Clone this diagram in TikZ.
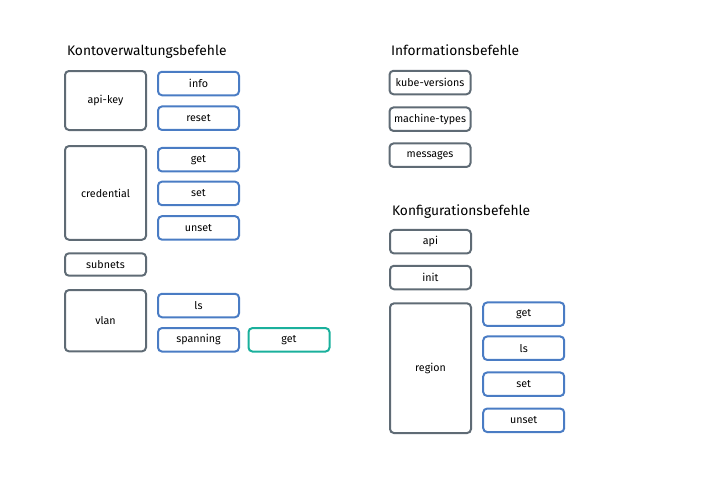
\documentclass[tikz,border=0pt]{standalone}
\usepackage{fontspec}
\setmainfont{Fira Sans}
\definecolor{cmdgray}{HTML}{5F6B75}
\definecolor{cmdblue}{HTML}{4A7CC4}
\definecolor{cmdteal}{HTML}{1AB09C}
\begin{document}
\begin{tikzpicture}
        [x=1pt,y=-1pt,
        every node/.style={rounded corners=4pt,line width=2pt,inner sep=0pt,
          font=\fontsize{10.7}{12}\selectfont,minimum width=81pt,minimum height=23.5pt},
        cmd/.style={draw=cmdgray},
        sub/.style={draw=cmdblue},
        subsub/.style={draw=cmdteal},
        title/.style={draw=none,anchor=base west,minimum width=0pt,minimum height=0pt,
          font=\fontsize{13.8}{17}\selectfont}]
        \useasboundingbox (0,0) rectangle (725,482);
        %Kontoverwaltung
        \node[title] (T1) at (66,55)                {Kontoverwaltungsbefehle};
        \node[cmd,minimum height=59pt] (APIKEY) at (105.5,100.5)     {api-key};
        \node[cmd,minimum height=93.7pt] (CRED) at (105.5,192.9)     {credential};
        \node[cmd,minimum height=22.4pt] (SUBNETS) at (105.5,264.5)  {subnets};
        \node[cmd,minimum height=61.3pt] (VLAN) at (105.5,320.7)     {vlan};
        \node[sub] (INFO) at (198.5,83.5)           {info};
        \node[sub] (RESET) at (198.5,118.2)         {reset};
        \node[sub] (CGET) at (198.5,159.7)          {get};
        \node[sub] (CSET) at (198.5,193.4)          {set};
        \node[sub] (CUNSET) at (198.5,227.9)        {unset};
        \node[sub] (VLS) at (198.5,305.5)           {ls};
        \node[sub] (SPAN) at (198.5,339.8)          {spanning};
        \node[subsub] (SGET) at (289,339.8)         {get};
        
        %Informationen
        \node[title] (T2) at (390,55)               {Informationsbefehle};
        \node[cmd] (KUBE) at (430,82.5)             {kube-versions};
        \node[cmd] (MACH) at (430,119.2)            {machine-types};
        \node[cmd] (MSG) at (430,155.2)             {messages};
        
        %Konfiguration
        \node[title] (T3) at (391,215)              {Konfigurationsbefehle};
        \node[cmd] (API) at (430.5,241.7)           {api};
        \node[cmd] (INIT) at (430.5,277.5)          {init};
        \node[cmd,minimum height=129.7pt] (REGION) at (430.5,368.2)  {region};
        \node[sub] (RGET) at (523.7,314.2)          {get};
        \node[sub] (RLS) at (523.7,348.2)           {ls};
        \node[sub] (RSET) at (523.7,384.2)          {set};
        \node[sub] (RUNSET) at (523.7,420.3)        {unset};
    \end{tikzpicture}
\end{document}
